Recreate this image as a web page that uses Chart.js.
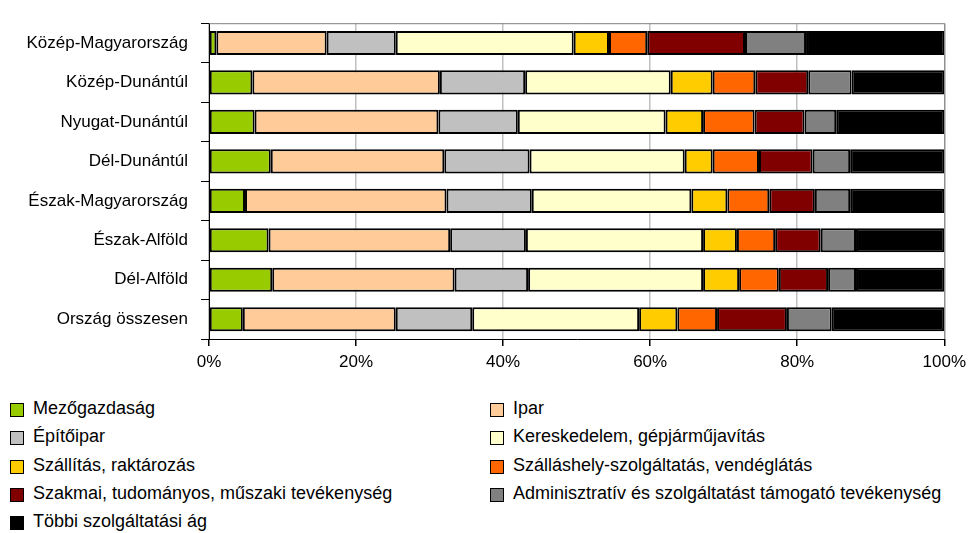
<!doctype html>
<html lang="hu">
<head>
<meta charset="UTF-8">
<title>Ágazati megoszlás régiónként</title>
<style>
  body { margin: 0; background: #fff; font-family: "Liberation Sans", Arial, sans-serif; }
  #wrap { position: relative; width: 972px; height: 533px; }
  #chart { position: absolute; left: 0; top: 0; }
  .lg { position: absolute; font-size: 18px; color: #000; white-space: nowrap; line-height: 18px; }
  .lg i { position: absolute; left: 0; top: 4px; width: 12px; height: 12px; border: 1px solid #000; }
  .lg span { position: absolute; left: 23px; top: 0; }
</style>
</head>
<body>
<div id="wrap">
  <canvas id="chart" width="972" height="385"></canvas>
  <div id="legend"></div>
</div>
<script src="https://cdn.jsdelivr.net/npm/chart.js@4/dist/chart.umd.min.js"></script>
<script>
const regions = ['Közép-Magyarország', 'Közép-Dunántúl', 'Nyugat-Dunántúl', 'Dél-Dunántúl',
                 'Észak-Magyarország', 'Észak-Alföld', 'Dél-Alföld', 'Ország összesen'];

const sectors = ['Mezőgazdaság', 'Ipar', 'Építőipar', 'Kereskedelem, gépjárműjavítás',
                 'Szállítás, raktározás', 'Szálláshely-szolgáltatás, vendéglátás',
                 'Szakmai, tudományos, műszaki tevékenység',
                 'Adminisztratív és szolgáltatást támogató tevékenység',
                 'Többi szolgáltatási ág'];

const colors = ['#99CC00', '#FFCC99', '#C0C0C0', '#FFFFCC', '#FFCC00', '#FF6600', '#800000', '#808080', '#000000'];

// percentages per sector, in region order
const mezogazdasag = [1.0, 5.9, 6.2, 8.4, 4.9, 8.1, 8.6, 4.6];
const ipar         = [15.0, 25.5, 25.0, 23.6, 27.4, 24.7, 24.8, 20.8];
const epitoipar    = [9.4, 11.6, 10.8, 11.6, 11.6, 10.3, 10.0, 10.4];
const kereskedelem = [24.2, 19.8, 20.1, 21.1, 21.7, 24.1, 23.8, 22.7];
const szallitas    = [4.8, 5.7, 5.1, 3.8, 4.9, 4.6, 4.9, 5.2];
const vendeglatas  = [5.2, 5.8, 7.0, 6.3, 5.7, 5.2, 5.4, 5.4];
const szakmai      = [13.3, 7.2, 6.8, 7.3, 6.2, 6.2, 6.7, 9.5];
const adminisztr   = [8.3, 5.9, 4.3, 5.1, 4.8, 4.8, 3.8, 6.1];
const tobbi        = [18.8, 12.6, 14.7, 12.8, 12.8, 12.0, 12.0, 15.3];

const series = [mezogazdasag, ipar, epitoipar, kereskedelem, szallitas, vendeglatas, szakmai, adminisztr, tobbi];

const xTicks = [0, 20, 40, 60, 80, 100];

const font = { family: '"Liberation Sans", Arial, sans-serif', size: 17 };

const plotFrame = {
    id: 'plotFrame',
    afterDraw(chart) {
        const a = chart.chartArea, ctx = chart.ctx;
        ctx.save();
        ctx.strokeStyle = '#808080';
        ctx.lineWidth = 1;
        ctx.beginPath();
        ctx.moveTo(a.left, a.top + 0.5);
        ctx.lineTo(a.right + 0.5, a.top + 0.5);
        ctx.lineTo(a.right + 0.5, a.bottom);
        ctx.stroke();
        ctx.restore();
    }
};

new Chart(document.getElementById('chart'), {
    type: 'bar',
    data: {
        labels: regions,
        datasets: sectors.map((s, i) => ({
            label: s,
            data: series[i],
            backgroundColor: colors[i],
            borderColor: '#000',
            borderWidth: 2,
            borderSkipped: false,
            barPercentage: 0.61,
            categoryPercentage: 1
        }))
    },
    options: {
        indexAxis: 'y',
        responsive: false,
        animation: false,
        layout: { padding: { top: 11, right: 25, left: 0, bottom: 0 } },
        plugins: { legend: { display: false }, tooltip: { enabled: false } },
        scales: {
            x: {
                stacked: true,
                min: 0,
                max: 100,
                afterBuildTicks: sc => { sc.ticks = xTicks.map(v => ({ value: v })); },
                afterFit: sc => { sc.height = 46; },
                ticks: { callback: v => v + '%', color: '#000', font: font, padding: 6, maxRotation: 0 },
                grid: { color: '#C0C0C0', lineWidth: 1.5, tickColor: '#000', tickLength: 7, drawTicks: true },
                border: { display: true, color: '#000', width: 1 }
            },
            y: {
                stacked: true,
                afterFit: sc => { sc.width = 209; },
                ticks: { color: '#000', font: font, padding: 13 },
                grid: { offset: true, drawOnChartArea: false, color: '#000', tickLength: 8 },
                border: { display: true, color: '#000', width: 1 }
            }
        }
    },
    plugins: [plotFrame]
});

// two-column legend below the plot
const legend = document.getElementById('legend');
const rowY = [399, 427, 456, 484, 512];
sectors.forEach((s, i) => {
    const d = document.createElement('div');
    d.className = 'lg';
    d.style.left = (i % 2 === 0 ? 10 : 490) + 'px';
    d.style.top = rowY[Math.floor(i / 2)] + 'px';
    d.innerHTML = '<i style="background:' + colors[i] + '"></i><span>' + s + '</span>';
    legend.appendChild(d);
});
</script>
</body>
</html>
